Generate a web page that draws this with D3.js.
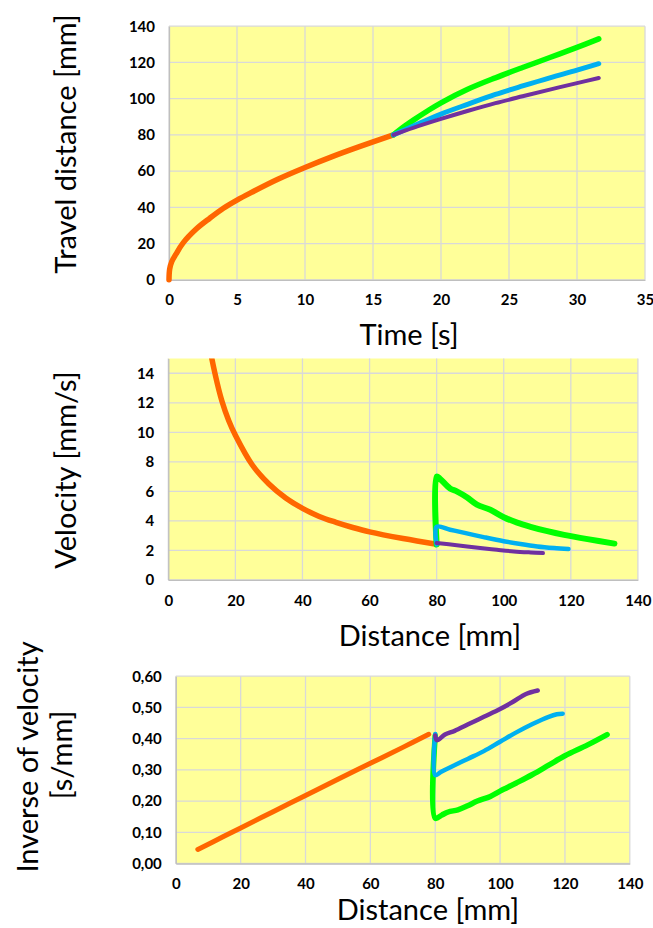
<!DOCTYPE html>
<html>
<head>
<meta charset="utf-8">
<script src="https://cdn.jsdelivr.net/npm/d3@7"></script>
<style>
    body { margin: 0; background: #fff; }
    text { font-family: Lato, "Open Sans", sans-serif; }
    .tick text { font-weight: bold; font-size: 15px; fill: #000; }
    .axis-title { font-size: 29px; fill: #000; }
</style>
</head>
<body>
<div id="chart"></div>
<script>
// ---- data ----

// panel 1: travel distance [mm] vs time [s]
const timeTicks = [0, 5, 10, 15, 20, 25, 30, 35];
const travelTicks = [0, 20, 40, 60, 80, 100, 120, 140];
const travelOrange = [[0, 0], [0.05, 6], [0.2, 10], [0.5, 14], [1, 20], [2, 28], [3, 34], [4, 39.5],
    [5, 44], [6, 48], [8, 55.5], [10, 62], [12, 68], [14, 73.5], [16.5, 80]];
const travelGreen = [[16.5, 80], [17, 83], [18, 88.3], [19, 93.2], [20, 97.7], [22, 105.3], [24, 111.5],
    [26, 117.2], [28, 122.7], [30, 128.3], [31.6, 133]];
const travelBlue = [[16.5, 80], [18, 85], [20, 91.5], [22, 97], [24, 102.3], [26, 107],
    [28, 111.5], [30, 115.7], [31.6, 119.3]];
const travelPurple = [[16.5, 80], [18, 84], [20, 88.8], [22, 93.3], [24, 97.5], [26, 101.3],
    [28, 105], [30, 108.6], [31.6, 111.4]];

// panel 2: velocity [mm/s] vs distance [mm]
const distTicks = [0, 20, 40, 60, 80, 100, 120, 140];
const velTicks = [0, 2, 4, 6, 8, 10, 12, 14];
const velOrange = [[10, 19.5], [12, 16.2], [14, 13.9], [16, 12.1], [18, 10.8], [20, 9.8], [25, 7.8],
    [30, 6.5], [35, 5.55], [40, 4.85], [45, 4.3], [50, 3.9], [55, 3.55], [60, 3.25], [70, 2.8], [80, 2.42]];
const velGreen = [[80, 2.4], [80, 7.0], [81, 6.85], [84, 6.2], [86, 6.0], [89, 5.6], [92, 5.1],
    [96, 4.75], [100, 4.25], [104, 3.88], [108, 3.6], [113, 3.3], [118, 3.05], [125, 2.76], [133, 2.46]];
const velBlue = [[80, 2.4], [80, 3.6], [84, 3.4], [88, 3.2], [94, 2.9], [100, 2.62], [105, 2.43],
    [110, 2.27], [115, 2.16], [119.3, 2.09]];
const velPurple = [[80, 2.5], [86, 2.35], [93, 2.16], [98, 2.04], [103, 1.93], [108, 1.86], [111.7, 1.82]];

// panel 3: inverse of velocity [s/mm] vs distance [mm]
const invTicks = [0, 0.1, 0.2, 0.3, 0.4, 0.5, 0.6];
const invOrange = [[6.8, 0.045], [15, 0.088], [20, 0.114], [30, 0.166], [40, 0.218], [50, 0.27],
    [60, 0.321], [70, 0.372], [78, 0.414]];
const invGreen = [[80, 0.41], [80, 0.145], [82, 0.155], [84, 0.165], [87, 0.172], [90, 0.185],
    [93, 0.2], [97, 0.215], [100, 0.232], [105, 0.258], [110, 0.285], [115, 0.315], [120, 0.345],
    [127, 0.38], [133, 0.413]];
const invBlue = [[80, 0.415], [80, 0.283], [82, 0.295], [85, 0.31], [90, 0.335], [95, 0.36],
    [100, 0.39], [105, 0.42], [110, 0.447], [115, 0.47], [117.5, 0.478], [119.3, 0.48]];
const invPurple = [[80, 0.41], [80.5, 0.395], [83, 0.413], [86, 0.425], [90, 0.445], [95, 0.47],
    [100, 0.495], [104, 0.518], [108, 0.543], [111.6, 0.554]];

const colors = {orange: '#ff6600', green: '#00ff00', blue: '#00b0f0', purple: '#7030a0'};

const width = 653, height = 928;

const svg = d3.select('#chart').append('svg')
    .attr('width', width)
    .attr('height', height);

const panels = [
    {
        id: 'p1', left: 169, right: 645, top: 26.2, bottom: 279.8,
        xDomain: [0, 35], yDomain: [0, 140], xTicks: timeTicks, yTicks: travelTicks,
        yFmt: d3.format('d'),
        series: [[travelOrange, 'orange', 5.5], [travelGreen, 'green', 5.5],
                 [travelBlue, 'blue', 5], [travelPurple, 'purple', 4]],
        xTitle: {text: 'Time [s]', x: 409, y: 345},
        yTitle: [{text: 'Travel distance [mm]', x: 76, y: 144}]
    },
    {
        id: 'p2', left: 168.3, right: 637.9, top: 358.5, bottom: 579.9,
        xDomain: [0, 140], yDomain: [0, 15], xTicks: distTicks, yTicks: velTicks,
        yFmt: d3.format('d'),
        series: [[velOrange, 'orange', 5.5], [velGreen, 'green', 6],
                 [velBlue, 'blue', 4.5], [velPurple, 'purple', 4]],
        xTitle: {text: 'Distance [mm]', x: 430, y: 646},
        yTitle: [{text: 'Velocity [mm/s]', x: 76, y: 470}]
    },
    {
        id: 'p3', left: 175.8, right: 629.8, top: 676.2, bottom: 863.5,
        xDomain: [0, 140], yDomain: [0, 0.6], xTicks: distTicks, yTicks: invTicks,
        yFmt: d => d3.format('.2f')(d).replace('.', ','),
        series: [[invOrange, 'orange', 5], [invGreen, 'green', 5.5],
                 [invBlue, 'blue', 4.5], [invPurple, 'purple', 4.5]],
        xTitle: {text: 'Distance [mm]', x: 428, y: 920},
        yTitle: [{text: 'Inverse of velocity', x: 38, y: 757},
                 {text: '[s/mm]', x: 72, y: 755}]
    }
];

panels.forEach(p => {
    let x = d3.scaleLinear().domain(p.xDomain).range([p.left, p.right]);
    let y = d3.scaleLinear().domain(p.yDomain).range([p.bottom, p.top]);

    // plot area
    svg.append('rect')
        .attr('x', p.left).attr('y', p.top)
        .attr('width', p.right - p.left).attr('height', p.bottom - p.top)
        .attr('fill', '#ffff99');

    // grid
    let g = svg.append('g').attr('class', 'grid');
    g.selectAll('.vline').data(p.xTicks).enter().append('line')
        .attr('x1', d => x(d)).attr('x2', d => x(d))
        .attr('y1', p.top).attr('y2', p.bottom)
        .attr('stroke', '#d9d9d9').attr('stroke-width', 1.3);
    g.selectAll('.hline').data(p.yTicks).enter().append('line')
        .attr('y1', d => y(d)).attr('y2', d => y(d))
        .attr('x1', p.left).attr('x2', p.right)
        .attr('stroke', '#d9d9d9').attr('stroke-width', 1.3);

    // axes
    let xAxis = svg.append('g')
        .attr('transform', `translate(0, ${p.bottom})`)
        .call(d3.axisBottom(x).tickValues(p.xTicks).tickSize(0).tickPadding(15).tickFormat(d3.format('d')));
    xAxis.select('.domain').attr('stroke', '#bfbfbf').attr('stroke-width', 1.3);

    let yAxis = svg.append('g')
        .attr('transform', `translate(${p.left}, 0)`)
        .call(d3.axisLeft(y).tickValues(p.yTicks).tickSize(0).tickPadding(14).tickFormat(p.yFmt));
    yAxis.select('.domain').attr('stroke', '#bfbfbf').attr('stroke-width', 1.3);

    // clip for lines
    svg.append('clipPath').attr('id', 'clip-' + p.id)
        .append('rect')
        .attr('x', p.left - 4).attr('y', p.top)
        .attr('width', p.right - p.left + 8).attr('height', p.bottom - p.top + 4);

    let line = d3.line()
        .x(d => x(d[0]))
        .y(d => y(d[1]))
        .curve(d3.curveCatmullRom.alpha(0.5));

    svg.append('g')
        .attr('clip-path', `url(#clip-${p.id})`)
        .selectAll('path')
        .data(p.series)
        .enter().append('path')
        .attr('d', d => line(d[0]))
        .attr('fill', 'none')
        .attr('stroke', d => colors[d[1]])
        .attr('stroke-width', d => d[2])
        .attr('stroke-linecap', 'round')
        .attr('stroke-linejoin', 'round');

    // titles
    svg.append('text')
        .attr('class', 'axis-title')
        .attr('x', p.xTitle.x).attr('y', p.xTitle.y)
        .attr('text-anchor', 'middle')
        .text(p.xTitle.text);

    p.yTitle.forEach(t => {
        svg.append('text')
            .attr('class', 'axis-title')
            .attr('transform', `translate(${t.x}, ${t.y}) rotate(-90)`)
            .attr('text-anchor', 'middle')
            .text(t.text);
    });
});
</script>
</body>
</html>
